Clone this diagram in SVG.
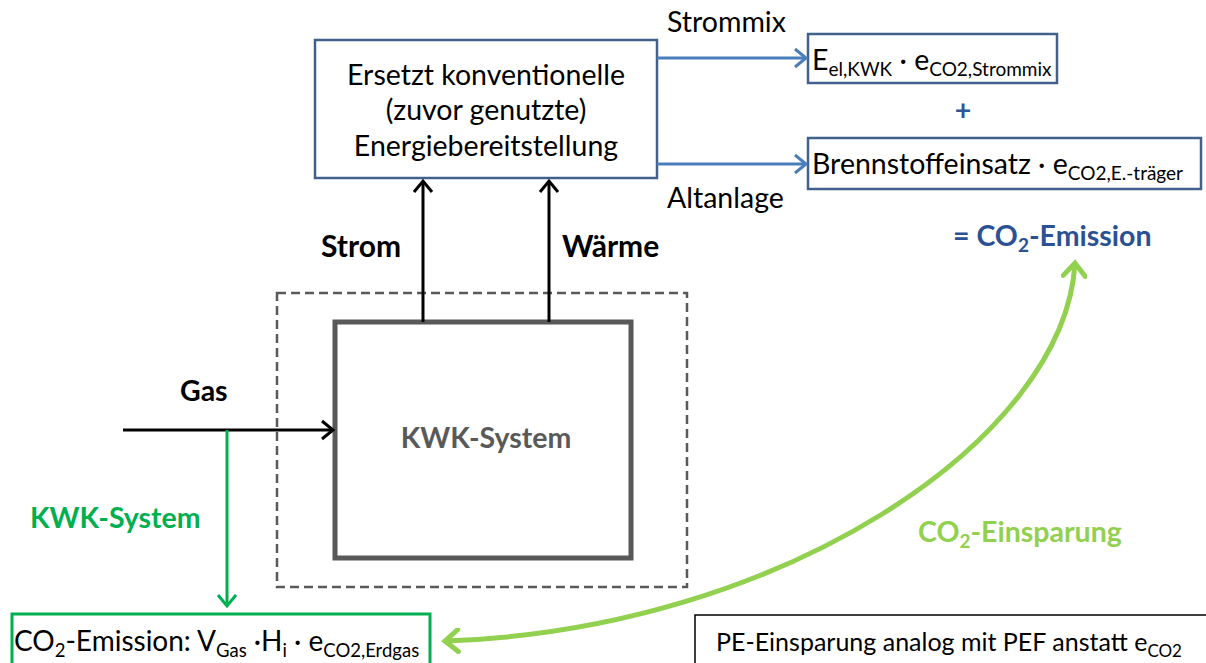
<svg xmlns="http://www.w3.org/2000/svg" width="1206" height="663" viewBox="0 0 1206 663">
<style>
text{font-family:Lato,"Liberation Sans",sans-serif;font-size:28.5px;fill:#000}
.b{font-weight:bold}
.sub{font-size:19px}
.bl{fill:none;stroke:#4a7ebb;stroke-width:3}
.bk{fill:none;stroke:#000;stroke-width:3}
</style>
<defs>
<marker id="ab" markerUnits="userSpaceOnUse" markerWidth="22" markerHeight="22" refX="15" refY="11" orient="auto"><path d="M4,2 L15,11 L4,20" fill="none" stroke="#4a7ebb" stroke-width="3"/></marker>
<marker id="ak" markerUnits="userSpaceOnUse" markerWidth="22" markerHeight="22" refX="15" refY="11" orient="auto"><path d="M4,2 L15,11 L4,20" fill="none" stroke="#000" stroke-width="3"/></marker>
<marker id="ag" markerUnits="userSpaceOnUse" markerWidth="22" markerHeight="22" refX="15" refY="11" orient="auto"><path d="M4,2 L15,11 L4,20" fill="none" stroke="#00b050" stroke-width="3"/></marker>
<marker id="al" markerUnits="userSpaceOnUse" markerWidth="26" markerHeight="26" refX="18" refY="13" orient="auto-start-reverse"><path d="M5,2 L18,13 L5,24" fill="none" stroke="#92d050" stroke-width="5" stroke-linecap="round"/></marker>
</defs>

<g id="replace">
<rect x="315" y="40" width="342" height="138" fill="#fff" stroke="#41608c" stroke-width="2.5"/>
<text x="486" y="85" text-anchor="middle">Ersetzt konventionelle</text>
<text x="486" y="120" text-anchor="middle">(zuvor genutzte)</text>
<text x="486" y="156" text-anchor="middle">Energiebereitstellung</text>
</g>

<g id="strommix">
<rect x="808" y="34" width="249" height="49" fill="#fff" stroke="#41608c" stroke-width="2.5"/>
<text x="812" y="70">E<tspan class="sub" dy="6">el,KWK</tspan><tspan dy="-6"> · e</tspan><tspan class="sub" dy="6">CO2,Strommix</tspan></text>
</g>

<g id="altanlage">
<rect x="808" y="138" width="393" height="51" fill="#fff" stroke="#41608c" stroke-width="2.5"/>
<text x="812" y="174">Brennstoffeinsatz · e<tspan class="sub" dy="6">CO2,E.-träger</tspan></text>
</g>

<g id="sum">
<text x="963" y="120" text-anchor="middle" class="b" style="fill:#2f5597">+</text>
<text x="953" y="246" class="b" style="fill:#2a5193">= CO<tspan class="sub" dy="6">2</tspan><tspan dy="-6">-Emission</tspan></text>
</g>

<g id="dashed">
<rect x="277" y="293" width="410" height="294" fill="none" stroke="#595959" stroke-width="2.5" stroke-dasharray="9,5"/>
</g>

<g id="kwk">
<rect x="335" y="322" width="296" height="236" fill="#fff" stroke="#595959" stroke-width="5"/>
<text x="486" y="448" text-anchor="middle" class="b" style="fill:#595959">KWK-System</text>
</g>

<g id="kwk-emission">
<rect x="12" y="614" width="418" height="60" fill="#fff" stroke="#00b050" stroke-width="3"/>
<text x="14" y="651" style="font-size:28px">CO<tspan style="font-size:18.5px" dy="6">2</tspan><tspan dy="-6">-Emission: V</tspan><tspan style="font-size:18.5px" dy="6">Gas</tspan><tspan dy="-6"> ·H</tspan><tspan style="font-size:18.5px" dy="6">i</tspan><tspan dy="-6"> · e</tspan><tspan style="font-size:18.5px" dy="6">CO2,Erdgas</tspan></text>
</g>

<g id="pe">
<rect x="695" y="615" width="520" height="60" fill="#fff" stroke="#000" stroke-width="1.5"/>
<text x="716" y="651" style="font-size:25px">PE-Einsparung analog mit PEF anstatt e<tspan style="font-size:17px" dy="6">CO2</tspan></text>
</g>

<g id="connectors">
<path class="bl" d="M657,58 H806" marker-end="url(#ab)"/>
<path class="bl" d="M657,164 H806" marker-end="url(#ab)"/>
<path class="bk" d="M423,322 V181" marker-end="url(#ak)"/>
<path class="bk" d="M549,322 V181" marker-end="url(#ak)"/>
<path class="bk" d="M123,430 H333" marker-end="url(#ak)"/>
<path fill="none" stroke="#00b050" stroke-width="3" d="M227,430 V606" marker-end="url(#ag)"/>
<path fill="none" stroke="#92d050" stroke-width="5" d="M1075,263 C1065,440 780,630 445,641" marker-start="url(#al)" marker-end="url(#al)"/>
</g>

<g id="labels">
<text x="667" y="32">Strommix</text>
<text x="667" y="208">Altanlage</text>
<text x="321" y="257" class="b" style="font-size:30px">Strom</text>
<text x="562" y="257" class="b" style="font-size:30px">Wärme</text>
<text x="180" y="401" class="b">Gas</text>
<text x="30" y="528" class="b" style="fill:#00b050">KWK-System</text>
<text x="918" y="542" class="b" style="fill:#92d050">CO<tspan class="sub" dy="6">2</tspan><tspan dy="-6">-Einsparung</tspan></text>
</g>
</svg>
